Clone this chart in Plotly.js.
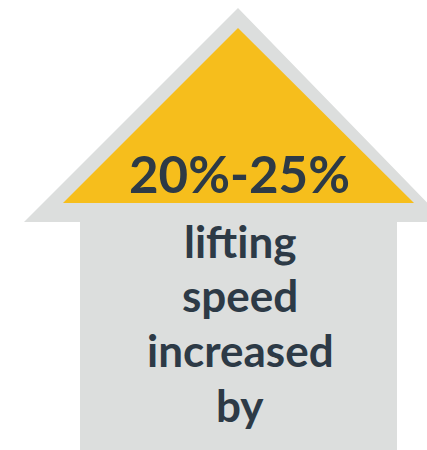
<!DOCTYPE html>
<html>
<head>
<meta charset="utf-8">
<script src="https://cdn.plot.ly/plotly-3.0.1.min.js"></script>
<style>html,body{margin:0;padding:0;background:#fff;}#chart{width:427px;height:450px;}</style>
</head>
<body>
<div id="chart"></div>
<script>
// Text content
const headline = "20%-25%";
const captionLines = ["lifting", "speed", "increased", "by"];

// Arrow outline (gray) vertices
const arrowX = [238, 446, 397, 397, 80, 80, 24, 238];
const arrowY = [8, 222, 222, 450, 450, 222, 222, 8];

// Arrow head (yellow) vertices
const headX = [238, 414, 63, 238];
const headY = [28, 203, 203, 28];

// Text anchor positions
const headlinePos = {x: 239, y: 173};
const captionX = 240;
const captionY = [241, 295, 350, 405];

const traces = [
  {x: arrowX, y: arrowY, type: 'scatter', mode: 'lines', fill: 'toself',
   fillcolor: '#DCDEDD', line: {width: 0, color: '#DCDEDD'}, hoverinfo: 'skip', showlegend: false},
  {x: headX, y: headY, type: 'scatter', mode: 'lines', fill: 'toself',
   fillcolor: '#F6BE1C', line: {width: 0, color: '#F6BE1C'}, hoverinfo: 'skip', showlegend: false}
];

const annotations = [
  {x: headlinePos.x, y: headlinePos.y, xref: 'x', yref: 'y', text: headline, showarrow: false,
   xanchor: 'center', yanchor: 'middle',
   font: {family: 'Lato', size: 51, color: '#2D3A46', weight: 'bold'}}
].concat(captionLines.map((t, i) => ({
  x: captionX, y: captionY[i], xref: 'x', yref: 'y', text: t, showarrow: false,
  xanchor: 'center', yanchor: 'middle',
  font: {family: 'Lato', size: 44, color: '#2D3A46', weight: 'bold'}
})));

const layout = {
  width: 427, height: 450, autosize: false,
  margin: {l: 0, r: 0, t: 0, b: 0, pad: 0},
  paper_bgcolor: '#ffffff', plot_bgcolor: '#ffffff',
  xaxis: {range: [0, 427], visible: false, fixedrange: true},
  yaxis: {range: [450, 0], visible: false, fixedrange: true},
  showlegend: false,
  annotations: annotations
};

Plotly.newPlot('chart', traces, layout, {displayModeBar: false, staticPlot: true});
</script>
</body>
</html>
